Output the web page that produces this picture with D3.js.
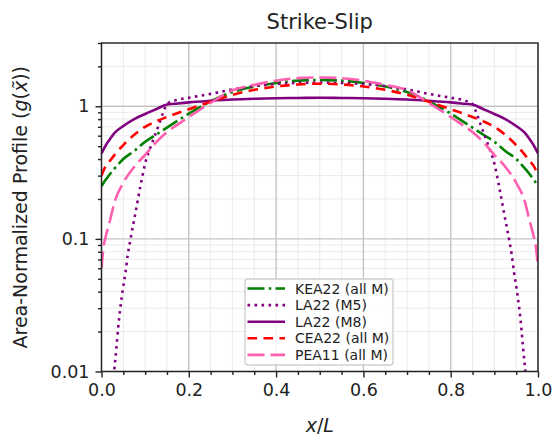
<!DOCTYPE html>
<html>
<head>
<meta charset="utf-8">
<script src="https://cdn.jsdelivr.net/npm/d3@7"></script>
<style>
  html, body { margin: 0; padding: 0; background: #fff; }
  svg { display: block; font-family: "DejaVu Sans", sans-serif; }
</style>
</head>
<body>
<svg id="chart" width="556" height="440"></svg>
<script>
// Slip profiles along normalized rupture length (strike-slip)
const xGrid = [0, 0.005, 0.01, 0.02, 0.03, 0.05, 0.075, 0.1, 0.125, 0.15, 0.175, 0.2, 0.25, 0.3, 0.35, 0.4, 0.45, 0.5,
               0.55, 0.6, 0.65, 0.7, 0.75, 0.8, 0.825, 0.85, 0.875, 0.9, 0.925, 0.95, 0.97, 0.98, 0.99, 0.995, 1];

const kea22 = [0.25, 0.265, 0.28, 0.31, 0.34, 0.40, 0.46, 0.54, 0.61, 0.69, 0.78, 0.88, 1.09, 1.28, 1.41, 1.50, 1.56, 1.58,
               1.56, 1.50, 1.41, 1.28, 1.09, 0.88, 0.78, 0.69, 0.61, 0.54, 0.46, 0.40, 0.34, 0.31, 0.28, 0.265, 0.25];

const cea22 = [0.30, 0.33, 0.355, 0.39, 0.43, 0.51, 0.61, 0.70, 0.77, 0.83, 0.89, 0.95, 1.08, 1.22, 1.33, 1.41, 1.46, 1.48,
               1.46, 1.41, 1.33, 1.22, 1.08, 0.95, 0.89, 0.83, 0.77, 0.70, 0.61, 0.51, 0.43, 0.39, 0.355, 0.33, 0.30];

const pea11 = [0.06, 0.088, 0.105, 0.14, 0.19, 0.265, 0.35, 0.43, 0.535, 0.64, 0.73, 0.83, 1.06, 1.32, 1.45, 1.56, 1.63, 1.65,
               1.63, 1.56, 1.45, 1.32, 1.06, 0.83, 0.73, 0.64, 0.535, 0.43, 0.35, 0.265, 0.19, 0.14, 0.105, 0.088, 0.06];

const la22M8 = [0.44, 0.475, 0.51, 0.57, 0.63, 0.71, 0.80, 0.875, 0.95, 1.03, 1.05, 1.07, 1.10, 1.125, 1.14, 1.15, 1.155, 1.16,
                1.155, 1.15, 1.14, 1.125, 1.10, 1.07, 1.05, 1.03, 0.95, 0.875, 0.80, 0.71, 0.63, 0.57, 0.51, 0.475, 0.44];

const xM5 = [0.022, 0.029, 0.034, 0.038, 0.043, 0.049, 0.055, 0.06, 0.066, 0.078, 0.089, 0.1, 0.116, 0.131, 0.142, 0.15,
             0.175, 0.2, 0.25, 0.3, 0.35, 0.4, 0.45, 0.5, 0.55, 0.6, 0.65, 0.7, 0.75, 0.8, 0.825,
             0.85, 0.858, 0.869, 0.884, 0.9, 0.911, 0.922, 0.934, 0.94, 0.945, 0.951, 0.957, 0.962, 0.966, 0.971, 0.978];
const la22M5 = [0.005, 0.010, 0.0148, 0.021, 0.030, 0.042, 0.056, 0.075, 0.098, 0.158, 0.248, 0.37, 0.53, 0.72, 0.91, 1.04,
                1.12, 1.16, 1.24, 1.34, 1.42, 1.47, 1.50, 1.51, 1.50, 1.47, 1.42, 1.34, 1.24, 1.16, 1.12,
                1.04, 0.91, 0.72, 0.53, 0.37, 0.248, 0.158, 0.098, 0.075, 0.056, 0.042, 0.030, 0.021, 0.0148, 0.010, 0.005];

const xTicks = [0.0, 0.2, 0.4, 0.6, 0.8, 1.0];
const xMinorTicks = [0.05, 0.1, 0.15, 0.25, 0.3, 0.35, 0.45, 0.5, 0.55, 0.65, 0.7, 0.75, 0.85, 0.9, 0.95];
const yTicks = [0.01, 0.1, 1];
const yTickLabels = ["0.01", "0.1", "1"];
const yMinorTicks = [0.02, 0.03, 0.04, 0.05, 0.06, 0.07, 0.08, 0.09, 0.2, 0.3, 0.4, 0.5, 0.6, 0.7, 0.8, 0.9, 2, 3];

const series = [
  { name: "KEA22 (all M)", xs: xGrid, ys: kea22, color: "#008000", dash: "17,4.2,2.6,4.2", width: 2.6 },
  { name: "LA22 (M5)",     xs: xM5,   ys: la22M5, color: "#800080", dash: "2.6,4.4", width: 2.6 },
  { name: "LA22 (M8)",     xs: xGrid, ys: la22M8, color: "#800080", dash: null, width: 2.6 },
  { name: "CEA22 (all M)", xs: xGrid, ys: cea22, color: "#ff0000", dash: "9.6,6.4", width: 2.6 },
  { name: "PEA11 (all M)", xs: xGrid, ys: pea11, color: "#ff5fb0", dash: "17,6", width: 2.6 }
];

const svg = d3.select("#chart");
const pL = 101.5, pR = 538, pT = 43, pB = 371.5;

const x = d3.scaleLinear().domain([0, 1]).range([pL, pR]);
const y = d3.scaleLog().domain([0.01, 3]).range([pB, pT]);

svg.append("defs").append("clipPath").attr("id", "plotClip")
  .append("rect").attr("x", pL).attr("y", pT).attr("width", pR - pL).attr("height", pB - pT);

// Grid: minor first, then major
const grid = svg.append("g");
grid.selectAll("line.xmin").data(xMinorTicks).join("line")
  .attr("x1", d => x(d)).attr("x2", d => x(d)).attr("y1", pT).attr("y2", pB)
  .attr("stroke", "#ebebeb").attr("stroke-width", 1);
grid.selectAll("line.ymin").data(yMinorTicks).join("line")
  .attr("x1", pL).attr("x2", pR).attr("y1", d => y(d)).attr("y2", d => y(d))
  .attr("stroke", "#ebebeb").attr("stroke-width", 1);
grid.selectAll("line.xmaj").data(xTicks).join("line")
  .attr("x1", d => x(d)).attr("x2", d => x(d)).attr("y1", pT).attr("y2", pB)
  .attr("stroke", "#c4c4c4").attr("stroke-width", 1.4);
grid.selectAll("line.ymaj").data(yTicks).join("line")
  .attr("x1", pL).attr("x2", pR).attr("y1", d => y(d)).attr("y2", d => y(d))
  .attr("stroke", "#c4c4c4").attr("stroke-width", 1.4);

// Curves
const plot = svg.append("g").attr("clip-path", "url(#plotClip)");
series.forEach(s => {
  const pts = s.xs.map((v, i) => [v, s.ys[i]]);
  const line = d3.line().x(d => x(d[0])).y(d => y(d[1])).curve(d3.curveMonotoneX);
  plot.append("path").datum(pts)
    .attr("d", line)
    .attr("fill", "none")
    .attr("stroke", s.color)
    .attr("stroke-width", s.width)
    .attr("stroke-dasharray", s.dash);
});

// Axes
const xAxis = d3.axisBottom(x).tickValues(xTicks).tickFormat(d3.format(".1f")).tickSize(6).tickPadding(6);
const xAxisMinor = d3.axisBottom(x).tickValues(xMinorTicks).tickFormat("").tickSize(3.5);
const yAxis = d3.axisLeft(y).tickValues(yTicks).tickFormat((d, i) => yTickLabels[i]).tickSize(6).tickPadding(6);
const yAxisMinor = d3.axisLeft(y).tickValues(yMinorTicks).tickFormat("").tickSize(3.5);

function styleAxis(g) {
  g.select(".domain").remove();
  g.selectAll(".tick line").attr("stroke", "#222").attr("stroke-width", 1.4);
  g.selectAll(".tick text").attr("fill", "#222").attr("font-size", 17.5).attr("font-family", "DejaVu Sans");
}
svg.append("g").attr("transform", `translate(0,${pB})`).call(xAxisMinor).call(styleAxis);
svg.append("g").attr("transform", `translate(0,${pB})`).call(xAxis).call(styleAxis);
svg.append("g").attr("transform", `translate(${pL},0)`).call(yAxisMinor).call(styleAxis);
svg.append("g").attr("transform", `translate(${pL},0)`).call(yAxis).call(styleAxis);

// Frame
svg.append("rect").attr("x", pL).attr("y", pT).attr("width", pR - pL).attr("height", pB - pT)
  .attr("fill", "none").attr("stroke", "#222").attr("stroke-width", 1.4);

// Title and axis labels
svg.append("text").attr("x", (pL + pR) / 2).attr("y", 29).attr("text-anchor", "middle")
  .attr("font-size", 21).attr("fill", "#222").text("Strike-Slip");

const xl = svg.append("text").attr("x", (pL + pR) / 2).attr("y", 432).attr("text-anchor", "middle")
  .attr("font-size", 19).attr("fill", "#222");
xl.append("tspan").attr("font-style", "italic").text("x");
xl.append("tspan").text("/");
xl.append("tspan").attr("font-style", "italic").text("L");

const yl = svg.append("text").attr("transform", `translate(27,${(pT + pB) / 2}) rotate(-90)`)
  .attr("text-anchor", "middle").attr("font-size", 19).attr("fill", "#222");
yl.append("tspan").text("Area-Normalized Profile (");
yl.append("tspan").attr("font-style", "italic").text("g");
yl.append("tspan").text("(");
yl.append("tspan").attr("font-style", "italic").text("x\u0303");
yl.append("tspan").text("))");

// Legend
const lg = svg.append("g");
const lx = 245, ly = 279, lw = 148, lh = 86;
lg.append("rect").attr("x", lx).attr("y", ly).attr("width", lw).attr("height", lh).attr("rx", 3)
  .attr("fill", "#fff").attr("fill-opacity", 0.8).attr("stroke", "#d0d0d0").attr("stroke-width", 1.4);
series.forEach((s, i) => {
  const cy = 288.5 + i * 16.6;
  lg.append("line").attr("x1", 247.5).attr("x2", 285).attr("y1", cy).attr("y2", cy)
    .attr("stroke", s.color).attr("stroke-width", s.width).attr("stroke-dasharray", s.dash);
  lg.append("text").attr("x", 295).attr("y", cy).attr("dy", "0.36em")
    .attr("font-size", 14).attr("fill", "#222").text(s.name);
});
</script>
</body>
</html>
